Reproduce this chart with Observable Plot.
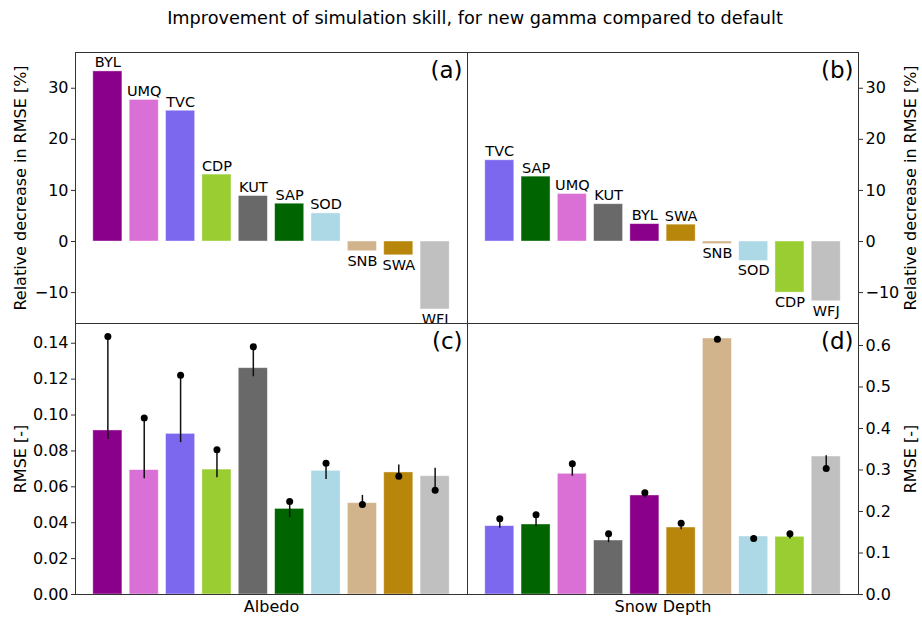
<!DOCTYPE html>
<html><head><meta charset="utf-8">
<script src="https://cdn.jsdelivr.net/npm/d3@7"></script>
<script src="https://cdn.jsdelivr.net/npm/@observablehq/plot@0.6"></script>
<style>
body{margin:0;background:#fff;}
#fig{position:relative;width:922px;height:618px;font-family:"DejaVu Sans",sans-serif;overflow:hidden;background:#fff}
#fig > div.p{position:absolute}
#title{position:absolute;top:8px;left:0;width:950px;text-align:center;font-size:17.7px;color:#000}
</style></head><body>
<div id="fig"><div id="title">Improvement of simulation skill, for new gamma compared to default</div></div>
<script>
// ---- data ----
const sitesA = ["BYL","UMQ","TVC","CDP","KUT","SAP","SOD","SNB","SWA","WFJ"];
const improvAlbedo = [33.3, 27.7, 25.6, 13.1, 8.9, 7.4, 5.5, -1.9, -2.7, -13.3];
const rmseAlbedo = [0.0914, 0.0693, 0.0895, 0.0696, 0.1261, 0.0477, 0.0689, 0.0509, 0.0680, 0.0659];
const dotAlbedo = [0.1437, 0.0984, 0.1222, 0.0806, 0.1380, 0.0518, 0.0732, 0.0501, 0.0659, 0.0581];
const loAlbedo = [0.0867, 0.0648, 0.0849, 0.0654, 0.1216, 0.0431, 0.0643, 0.0501, 0.0659, 0.0581];
const hiAlbedo = [0.1437, 0.0984, 0.1222, 0.0806, 0.1380, 0.0518, 0.0732, 0.0555, 0.0724, 0.0706];

const sitesB = ["TVC","SAP","UMQ","KUT","BYL","SWA","SNB","SOD","CDP","WFJ"];
const improvSnow = [15.9, 12.7, 9.3, 7.3, 3.4, 3.3, -0.5, -3.8, -10.0, -11.7];
const rmseSnow = [0.1647, 0.1687, 0.2908, 0.1301, 0.2386, 0.1614, 0.6169, 0.1398, 0.1390, 0.3325];
const dotSnow = [0.1823, 0.1920, 0.3149, 0.1462, 0.2450, 0.1719, 0.6153, 0.1349, 0.1462, 0.3036];
const loSnow = [0.1606, 0.1647, 0.2860, 0.1261, 0.2345, 0.1574, 0.6140, 0.1349, 0.1350, 0.3036];
const hiSnow = [0.1823, 0.1920, 0.3149, 0.1462, 0.2450, 0.1719, 0.6180, 0.1422, 0.1462, 0.3357];

const improvTicks = [-10, 0, 10, 20, 30];
const albedoTicks = [0, 0.02, 0.04, 0.06, 0.08, 0.10, 0.12, 0.14];
const snowTicks = [0, 0.1, 0.2, 0.3, 0.4, 0.5, 0.6];

const siteColors = {BYL:"#8B008B", UMQ:"#DA70D6", TVC:"#7B68EE", CDP:"#9ACD32", KUT:"#696969",
  SAP:"#006400", SOD:"#ADD8E6", SNB:"#D2B48C", SWA:"#B8860B", WFJ:"#C0C0C0"};

const fig = document.getElementById("fig");
const minusFmt = d => d < 0 ? "\u2212" + Math.abs(d) : String(d);

function panel(o) {
  const rows = o.sites.map((s, i) => ({site: s, i, v: o.values[i],
    lo: o.lo ? o.lo[i] : null, hi: o.hi ? o.hi[i] : null, dot: o.dot ? o.dot[i] : null}));
  const marks = [
    Plot.rect(rows, {x1: d => d.i - 0.4, x2: d => d.i + 0.4, y1: () => 0, y2: "v",
      fill: d => siteColors[d.site], stroke: "white", strokeWidth: 0.8, strokeOpacity: 0.5}),
    Plot.axisY({anchor: o.side, ticks: o.ticks, tickFormat: o.fmt, tickSize: 4, tickPadding: 3,
      fontSize: 16, label: null, stroke: "#333"}),
    Plot.frame({stroke: "#333", strokeWidth: 1}),
    Plot.text([o.letter], {frameAnchor: "top-right", text: d => d, dx: -5, dy: 9,
      textAnchor: "end", lineAnchor: "top", fontSize: 23}),
    Plot.text([o.ylabel], {frameAnchor: o.side, text: d => d, dx: o.side === "left" ? -55 : 52,
      rotate: -90, textAnchor: "middle", fontSize: 16})
  ];
  if (o.labels) {
    marks.push(Plot.text(rows.filter(d => d.v >= 0), {x: "i", y: "v", text: "site",
      lineAnchor: "bottom", dy: -4, fontSize: 14.5}));
    marks.push(Plot.text(rows.filter(d => d.v < 0), {x: "i", y: "v", text: "site",
      lineAnchor: "top", dy: 4, fontSize: 14.5}));
  }
  if (o.dot) {
    marks.push(Plot.link(rows, {x1: "i", x2: "i", y1: "lo", y2: "hi", stroke: "#111", strokeWidth: 1.5}));
    marks.push(Plot.dot(rows, {x: "i", y: "dot", r: 3.5, fill: "black", stroke: "none"}));
  }
  if (o.xlabel) {
    marks.push(Plot.text([o.xlabel], {frameAnchor: "bottom", text: d => d, dy: 17, fontSize: 16}));
  }
  const svg = Plot.plot({
    width: o.width, height: o.height,
    marginTop: o.mt, marginBottom: o.mb, marginLeft: o.ml, marginRight: o.mr,
    x: {domain: [-0.89, 9.89], axis: null},
    y: {domain: o.yDomain, axis: null},
    style: {fontFamily: "DejaVu Sans", fontSize: "16px", background: o.bg, overflow: "visible", color: "black"},
    marks
  });
  svg.style.width = o.width + "px";
  svg.style.height = o.height + "px";
  svg.style.maxWidth = "none";
  const d = document.createElement("div");
  d.className = "p";
  d.style.left = o.left + "px";
  d.style.top = o.top + "px";
  d.style.width = o.width + "px";
  d.style.height = o.height + "px";
  d.appendChild(svg);
  fig.appendChild(d);
}

const improvDomain = [-16.05, 37.0];
panel({sites: sitesA, values: improvAlbedo, yDomain: improvDomain, ticks: improvTicks, fmt: minusFmt,
  side: "left", letter: "(a)", ylabel: "Relative decrease in RMSE [%]", labels: true,
  left: 0, top: 0, width: 467, height: 323, mt: 52, mb: 0, ml: 75, mr: 0, bg: "transparent"});
panel({sites: sitesB, values: improvSnow, yDomain: improvDomain, ticks: improvTicks, fmt: minusFmt,
  side: "right", letter: "(b)", ylabel: "Relative decrease in RMSE [%]", labels: true,
  left: 467, top: 0, width: 455, height: 323, mt: 52, mb: 0, ml: 0, mr: 64, bg: "transparent"});
panel({sites: sitesA, values: rmseAlbedo, lo: loAlbedo, hi: hiAlbedo, dot: dotAlbedo,
  yDomain: [0, 0.151], ticks: albedoTicks, fmt: d3.format(".2f"),
  side: "left", letter: "(c)", ylabel: "RMSE [-]", xlabel: "Albedo",
  left: 0, top: 323, width: 467, height: 295, mt: 0, mb: 24, ml: 75, mr: 0, bg: "white"});
panel({sites: sitesB, values: rmseSnow, lo: loSnow, hi: hiSnow, dot: dotSnow,
  yDomain: [0, 0.653], ticks: snowTicks, fmt: d3.format(".1f"),
  side: "right", letter: "(d)", ylabel: "RMSE [-]", xlabel: "Snow Depth",
  left: 467, top: 323, width: 455, height: 295, mt: 0, mb: 24, ml: 0, mr: 64, bg: "white"});
</script>
</body></html>
